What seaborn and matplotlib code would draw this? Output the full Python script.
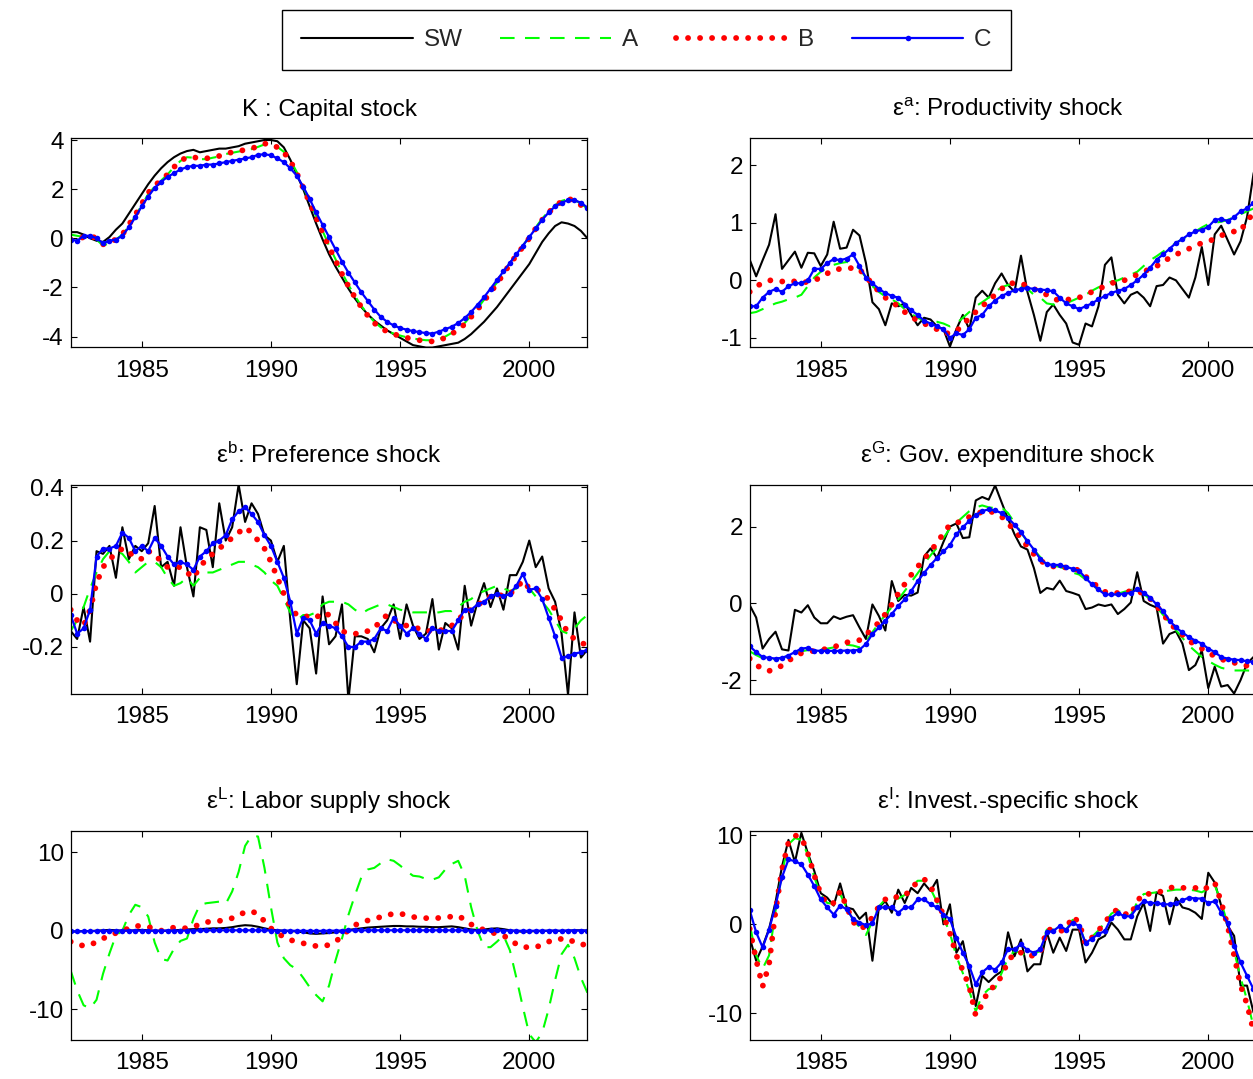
import numpy as np
import matplotlib
matplotlib.use("Agg")
import matplotlib.pyplot as plt
import seaborn as sns

# ---------------- data (quarterly, 1982.25 .. 2002.25) ----------------
quarters = np.arange(1982.25, 2002.26, 0.25)

series_labels = ["SW", "A", "B", "C"]

K_SW = [0.25, 0.25, 0.15, 0.0, -0.1, -0.15, 0.05, 0.35, 0.6, 1.0,
        1.4, 1.8, 2.2, 2.55, 2.85, 3.1, 3.3, 3.45, 3.55, 3.6,
        3.5, 3.55, 3.6, 3.65, 3.65, 3.7, 3.75, 3.85, 3.9, 3.95,
        4.0, 4.0, 3.95, 3.7, 3.2, 2.6, 2.0, 1.3, 0.6, -0.05,
        -0.65, -1.15, -1.6, -2.05, -2.45, -2.8, -3.1, -3.35, -3.55, -3.75,
        -3.9, -4.05, -4.2, -4.35, -4.4, -4.45, -4.45, -4.4, -4.35, -4.3,
        -4.25, -4.1, -3.9, -3.65, -3.4, -3.1, -2.8, -2.45, -2.1, -1.75,
        -1.4, -1.05, -0.6, -0.15, 0.2, 0.5, 0.65, 0.6, 0.5, 0.3,
        0.0]
K_A = [0.15, 0.1, 0.05, 0.05, -0.05, -0.3, -0.2, -0.05, 0.15, 0.5,
       0.9, 1.35, 1.8, 2.1, 2.35, 2.6, 2.9, 3.15, 3.3, 3.28,
       3.22, 3.22, 3.28, 3.33, 3.43, 3.48, 3.53, 3.58, 3.63, 3.72,
       3.82, 3.85, 3.72, 3.52, 3.18, 2.7, 2.1, 1.5, 0.9, 0.3,
       -0.3, -0.85, -1.4, -1.9, -2.35, -2.75, -3.1, -3.4, -3.62, -3.78,
       -3.88, -3.96, -4.03, -4.08, -4.12, -4.15, -4.15, -4.1, -4.0, -3.85,
       -3.65, -3.45, -3.15, -2.85, -2.5, -2.15, -1.8, -1.4, -1.0, -0.65,
       -0.3, 0.05, 0.45, 0.8, 1.1, 1.35, 1.52, 1.6, 1.55, 1.42,
       1.2]
K_B = [-0.05, -0.05, 0.05, 0.1, 0.0, -0.25, -0.15, -0.05, 0.15, 0.55,
       0.95, 1.4, 1.85, 2.15, 2.35, 2.6, 2.9, 3.15, 3.3, 3.3,
       3.25, 3.25, 3.3, 3.35, 3.45, 3.5, 3.55, 3.6, 3.65, 3.75,
       3.85, 3.85, 3.7, 3.5, 3.15, 2.65, 2.05, 1.45, 0.85, 0.25,
       -0.35, -0.9, -1.45, -1.95, -2.4, -2.8, -3.15, -3.45, -3.65, -3.8,
       -3.9, -3.98, -4.05, -4.1, -4.15, -4.18, -4.2, -4.15, -4.05, -3.9,
       -3.7, -3.5, -3.2, -2.9, -2.55, -2.2, -1.85, -1.45, -1.05, -0.7,
       -0.35, 0.0, 0.4, 0.75, 1.05, 1.3, 1.5, 1.6, 1.55, 1.35,
       1.0]
K_C = [-0.05, -0.1, 0.1, 0.1, 0.0, -0.2, -0.1, -0.05, 0.1, 0.45,
       0.85, 1.3, 1.7, 2.05, 2.3, 2.5, 2.65, 2.8, 2.9, 2.95,
       2.95, 3.0, 3.0, 3.05, 3.1, 3.15, 3.2, 3.25, 3.3, 3.4,
       3.42, 3.38, 3.25, 3.1, 2.85, 2.55, 2.1, 1.6, 1.05, 0.55,
       0.05, -0.45, -0.95, -1.4, -1.8, -2.2, -2.55, -2.9, -3.2, -3.4,
       -3.55, -3.65, -3.72, -3.78, -3.82, -3.86, -3.88, -3.8, -3.7, -3.6,
       -3.45, -3.25, -3.0, -2.7, -2.4, -2.05, -1.7, -1.35, -1.0, -0.65,
       -0.3, 0.05, 0.4, 0.75, 1.05, 1.3, 1.45, 1.55, 1.55, 1.45,
       1.25]

EA_SW = [0.36, 0.07, 0.35, 0.62, 1.15, 0.2, 0.35, 0.5, 0.22, 0.48,
         0.47, 0.25, 0.45, 1.02, 0.55, 0.57, 0.88, 0.78, 0.3, -0.38,
         -0.5, -0.78, -0.4, -0.45, -0.4, -0.6, -0.78, -0.65, -0.68, -0.8,
         -0.85, -1.15, -0.85, -0.6, -0.85, -0.3, -0.18, -0.3, -0.05, 0.12,
         -0.08, -0.2, 0.43, -0.2, -0.6, -1.05, -0.55, -0.42, -0.6, -0.75,
         -1.08, -1.12, -0.75, -0.8, -0.45, 0.27, 0.4, -0.25, -0.4, -0.25,
         -0.2, -0.3, -0.45, -0.1, -0.08, 0.05, 0.0, -0.15, -0.3, 0.05,
         0.58, -0.08, 0.8, 0.95, 0.7, 0.45, 0.68, 1.1, 1.85, 2.3,
         2.6]
EA_A = [-0.57, -0.55, -0.5, -0.45, -0.4, -0.37, -0.33, -0.3, -0.25, -0.1,
        0.05, 0.15, 0.22, 0.27, 0.3, 0.32, 0.3, 0.2, 0.05, -0.1,
        -0.2, -0.28, -0.33, -0.4, -0.5, -0.58, -0.65, -0.7, -0.72, -0.72,
        -0.75, -0.8, -0.75, -0.65, -0.55, -0.45, -0.38, -0.3, -0.2, -0.12,
        -0.08, -0.05, -0.1, -0.15, -0.25, -0.3, -0.4, -0.42, -0.45, -0.4,
        -0.35, -0.3, -0.25, -0.18, -0.12, -0.08, -0.02, 0.0, 0.05, 0.1,
        0.15, 0.25, 0.35, 0.42, 0.5, 0.58, 0.65, 0.72, 0.78, 0.85,
        0.92, 0.98, 1.0, 1.02, 1.05, 1.1, 1.15, 1.2, 1.25, 1.3,
        1.35]
EA_B = [-0.2, -0.1, -0.05, 0.0, 0.0, -0.02, 0.0, -0.02, -0.05, -0.02,
        0.0, 0.05, 0.12, 0.18, 0.2, 0.2, 0.22, 0.2, 0.05, -0.05,
        -0.2, -0.3, -0.38, -0.45, -0.55, -0.63, -0.7, -0.75, -0.8, -0.85,
        -0.92, -0.92, -0.88, -0.78, -0.65, -0.55, -0.45, -0.35, -0.25, -0.15,
        -0.05, -0.05, -0.05, -0.1, -0.15, -0.2, -0.25, -0.32, -0.35, -0.35,
        -0.3, -0.3, -0.25, -0.2, -0.15, -0.1, -0.05, -0.02, 0.0, 0.05,
        0.1, 0.15, 0.2, 0.25, 0.3, 0.4, 0.45, 0.5, 0.55, 0.6,
        0.65, 0.68, 0.72, 0.78, 0.82, 0.85, 0.85, 1.05, 1.15, 1.2,
        1.25]
EA_C = [-0.45, -0.45, -0.3, -0.2, -0.15, -0.2, -0.1, -0.05, -0.05, 0.0,
        0.2, 0.2, 0.3, 0.37, 0.35, 0.38, 0.45, 0.25, 0.05, -0.05,
        -0.15, -0.22, -0.27, -0.3, -0.42, -0.52, -0.6, -0.7, -0.75, -0.8,
        -0.85, -1.0, -0.92, -0.95, -0.85, -0.65, -0.6, -0.45, -0.35, -0.27,
        -0.22, -0.17, -0.15, -0.13, -0.15, -0.16, -0.17, -0.19, -0.3, -0.4,
        -0.45, -0.5, -0.45, -0.4, -0.33, -0.27, -0.22, -0.18, -0.15, -0.08,
        0.0, 0.1, 0.22, 0.36, 0.45, 0.55, 0.65, 0.72, 0.8, 0.85,
        0.88, 0.93, 1.05, 1.07, 1.03, 1.1, 1.2, 1.25, 1.35, 1.4,
        1.45]

EB_SW = [-0.14, -0.17, -0.05, -0.18, 0.16, 0.15, 0.18, 0.06, 0.25, 0.13,
         0.18, 0.16, 0.19, 0.33, 0.1, 0.12, 0.03, 0.25, 0.1, -0.01,
         0.25, 0.24, 0.1, 0.34, 0.2, 0.25, 0.41, 0.27, 0.34, 0.3,
         0.22, 0.2, 0.12, 0.18, -0.1, -0.34, -0.1, -0.13, -0.3, -0.01,
         -0.19, -0.16, -0.04, -0.4, -0.16, -0.16, -0.17, -0.22, -0.13, -0.1,
         -0.04, -0.17, -0.04, -0.12, -0.17, -0.15, -0.02, -0.21, -0.11, -0.13,
         -0.21, 0.03, -0.12, -0.03, 0.04, -0.05, 0.02, -0.06, 0.07, 0.07,
         0.12, 0.2, 0.1, 0.14, 0.02, -0.03, -0.15, -0.38, -0.07, -0.24,
         -0.21]
EB_A = [-0.14, -0.1, -0.05, 0.02, 0.08, 0.13, 0.16, 0.16, 0.15, 0.12,
        0.08, 0.1, 0.12, 0.12, 0.1, 0.06, 0.03, 0.04, 0.06, 0.03,
        0.06, 0.08, 0.08, 0.09, 0.1, 0.11, 0.12, 0.12, 0.11, 0.1,
        0.08, 0.05, 0.03, -0.02, -0.07, -0.1, -0.08, -0.08, -0.07, -0.04,
        -0.03, -0.03, -0.03, -0.04, -0.06, -0.075, -0.06, -0.05, -0.04, -0.04,
        -0.05, -0.06, -0.065, -0.07, -0.07, -0.07, -0.07, -0.07, -0.065, -0.065,
        -0.05, -0.03, -0.02, 0.0, 0.01, 0.02, 0.03, 0.02, 0.01, 0.02,
        0.04, 0.02, -0.01, -0.03, -0.06, -0.1, -0.14, -0.15, -0.13, -0.1,
        -0.08]
EB_B = [-0.06, -0.1, -0.12, -0.06, 0.04, 0.1, 0.13, 0.15, 0.17, 0.15,
        0.15, 0.13, 0.16, 0.15, 0.12, 0.1, 0.1, 0.1, 0.08, 0.06,
        0.1, 0.13, 0.15, 0.17, 0.19, 0.21, 0.23, 0.25, 0.23, 0.2,
        0.17, 0.12, 0.06, 0.0, -0.05, -0.08, -0.08, -0.09, -0.09, -0.07,
        -0.08, -0.11, -0.14, -0.15, -0.15, -0.15, -0.14, -0.13, -0.1, -0.08,
        -0.1, -0.11, -0.12, -0.13, -0.13, -0.14, -0.14, -0.14, -0.13, -0.12,
        -0.1, -0.07, -0.06, -0.04, -0.03, -0.01, 0.0, -0.01, 0.0, 0.02,
        0.05, 0.02, 0.02, 0.0, -0.02, -0.06, -0.1, -0.15, -0.17, -0.18,
        -0.2]
EB_C = [-0.08, -0.15, -0.13, -0.06, 0.14, 0.17, 0.17, 0.18, 0.23, 0.21,
        0.16, 0.18, 0.16, 0.21, 0.18, 0.14, 0.11, 0.12, 0.11, 0.09,
        0.14, 0.16, 0.19, 0.2, 0.22, 0.28, 0.31, 0.325, 0.3, 0.27,
        0.22, 0.18, 0.12, 0.06, -0.03, -0.15, -0.09, -0.1, -0.15, -0.11,
        -0.12, -0.13, -0.16, -0.2, -0.2, -0.18, -0.18, -0.17, -0.13, -0.14,
        -0.09, -0.12, -0.15, -0.13, -0.15, -0.17, -0.13, -0.14, -0.14, -0.14,
        -0.1, -0.06, -0.06, -0.04, -0.03, -0.01, 0.0, -0.01, 0.0, 0.03,
        0.075, 0.015, 0.02, -0.02, -0.09, -0.16, -0.24, -0.235, -0.225, -0.22,
        -0.21]

EG_SW = [-0.05, -0.37, -1.18, -0.93, -0.74, -1.2, -1.23, -0.17, -0.24, -0.05,
         -0.37, -0.52, -0.52, -0.34, -0.41, -0.35, -0.31, -0.63, -0.93, -0.03,
         -0.33, -0.71, 0.58, 0.06, 0.22, 0.2, 0.28, 1.22, 1.43, 1.18,
         1.6, 2.0, 2.08, 1.7, 1.72, 2.68, 2.77, 2.7, 3.07, 2.63,
         2.2, 1.8, 1.48, 1.4, 0.92, 0.27, 0.4, 0.36, 0.59, 0.32,
         0.27, 0.21, -0.15, -0.11, -0.03, -0.07, -0.03, -0.28, -0.15, 0.02,
         0.81, 0.06, -0.04, -0.11, -1.05, -0.8, -0.73, -1.05, -1.74, -1.61,
         -1.23, -2.21, -1.65, -2.17, -2.13, -2.35, -2.0, -1.57, -1.4, -1.3,
         -1.2]
EG_A = [-1.25, -1.35, -1.43, -1.46, -1.45, -1.42, -1.37, -1.3, -1.25, -1.22,
        -1.22, -1.2, -1.18, -1.15, -1.1, -1.08, -1.1, -1.15, -1.0, -0.75,
        -0.52, -0.3, -0.1, 0.1, 0.32, 0.55, 0.78, 1.02, 1.25, 1.45,
        1.7, 1.95, 2.1, 2.25, 2.4, 2.5, 2.55, 2.5, 2.48, 2.5,
        2.35, 2.1, 1.85, 1.6, 1.4, 1.2, 1.05, 0.98, 0.95, 0.88,
        0.8, 0.75, 0.62, 0.48, 0.35, 0.27, 0.25, 0.25, 0.3, 0.35,
        0.38, 0.25, 0.1, -0.1, -0.3, -0.5, -0.7, -0.9, -1.1, -1.25,
        -1.4, -1.5, -1.6, -1.68, -1.72, -1.75, -1.75, -1.75, -1.76, -1.77,
        -1.78]
EG_B = [-1.44, -1.6, -1.72, -1.76, -1.72, -1.62, -1.5, -1.38, -1.3, -1.26,
        -1.24, -1.22, -1.18, -1.14, -1.08, -1.02, -0.99, -0.96, -0.82, -0.66,
        -0.5, -0.28, -0.03, 0.25, 0.5, 0.74, 0.95, 1.16, 1.35, 1.58,
        1.82, 2.05, 2.1, 2.14, 2.25, 2.33, 2.38, 2.4, 2.36, 2.26,
        2.08, 1.9, 1.7, 1.48, 1.28, 1.12, 1.0, 0.96, 0.96, 0.93,
        0.9, 0.86, 0.7, 0.55, 0.42, 0.3, 0.26, 0.27, 0.28, 0.32,
        0.32, 0.25, 0.12, -0.07, -0.28, -0.5, -0.68, -0.82, -0.98, -1.08,
        -1.18, -1.28, -1.38, -1.45, -1.52, -1.55, -1.58, -1.63, -1.66, -1.68,
        -1.7]
EG_C = [-1.12, -1.27, -1.4, -1.42, -1.44, -1.42, -1.36, -1.27, -1.18, -1.16,
        -1.23, -1.24, -1.24, -1.24, -1.24, -1.23, -1.23, -1.21, -1.06, -0.8,
        -0.63, -0.45, -0.28, -0.07, 0.1, 0.32, 0.58, 0.79, 1.0, 1.18,
        1.35, 1.52, 1.8, 1.98, 2.15, 2.3, 2.4, 2.45, 2.42, 2.35,
        2.22, 2.05, 1.85, 1.62, 1.4, 1.15, 1.02, 1.0, 1.0, 0.95,
        0.9, 0.85, 0.66, 0.49, 0.36, 0.23, 0.23, 0.23, 0.25, 0.27,
        0.36, 0.28, 0.15, -0.03, -0.2, -0.45, -0.63, -0.76, -0.88, -0.97,
        -1.05, -1.18, -1.27, -1.4, -1.44, -1.47, -1.48, -1.51, -1.53, -1.55,
        -1.57]

EL_SW = [-0.1, -0.1, -0.05, -0.05, 0.0, 0.05, 0.1, 0.05, 0.0, 0.0,
         0.05, 0.1, 0.05, 0.0, -0.05, 0.0, 0.05, 0.1, 0.15, 0.2,
         0.2, 0.25, 0.3, 0.3, 0.35, 0.45, 0.6, 0.7, 0.65, 0.5,
         0.3, 0.15, 0.05, 0.0, -0.05, -0.1, -0.2, -0.35, -0.4, -0.35,
         -0.3, -0.2, -0.05, 0.1, 0.2, 0.3, 0.4, 0.45, 0.5, 0.55,
         0.6, 0.6, 0.55, 0.55, 0.5, 0.5, 0.45, 0.45, 0.5, 0.55,
         0.45, 0.3, 0.15, 0.1, 0.15, 0.25, 0.3, 0.2, 0.05, -0.05,
         -0.15, -0.1, -0.05, -0.05, 0.0, 0.0, -0.05, 0.0, 0.05, 0.05,
         0.0]
EL_A = [-5.1, -7.6, -9.5, -9.9, -8.8, -5.5, -2.9, -0.6, 0.0, 2.0,
        3.3, 3.0, 1.8, -1.5, -3.6, -3.8, -2.3, -1.3, -1.0, 1.5,
        3.3, 3.5, 3.6, 3.7, 3.4, 5.0, 7.5, 10.8, 12.1, 12.0,
        8.0, 3.0, -1.5, -3.5, -4.4, -4.9, -6.0, -7.2, -8.2, -9.0,
        -7.0, -3.8, -1.0, 2.0, 4.5, 6.8, 7.8, 8.0, 8.6, 9.1,
        8.9, 8.3, 7.6, 7.0, 6.9, 6.6, 6.5, 6.8, 7.8, 8.5,
        8.9, 7.0, 3.0, 0.0, -2.1, -2.1, -1.4, -0.6, -2.5, -6.0,
        -9.7, -13.2, -14.2, -13.0, -10.0, -6.3, -3.0, -1.8, -3.5, -6.0,
        -7.9]
EL_B = [-1.4, -1.8, -1.9, -1.85, -1.4, -1.0, -0.6, -0.3, 0.0, 0.3,
        0.6, 0.6, 0.5, 0.2, 0.0, 0.25, 0.4, 0.35, 0.3, 0.5,
        0.8, 1.1, 1.15, 1.25, 1.35, 1.6, 2.0, 2.35, 2.5, 2.1,
        1.2, 0.3, -0.3, -0.8, -1.2, -1.35, -1.6, -1.85, -1.95, -2.0,
        -1.8, -1.4, -0.7, 0.1, 0.7, 1.1, 1.3, 1.5, 1.75, 2.0,
        2.15, 2.2, 1.95, 1.75, 1.65, 1.6, 1.6, 1.62, 1.7, 1.8,
        1.9, 1.4, 0.8, 0.4, 0.1, -0.2, -0.4, -0.6, -1.2, -1.7,
        -2.1, -2.1, -2.1, -1.8, -1.4, -1.1, -1.05, -1.0, -1.5, -1.8,
        -1.7]
EL_C = [-0.1, -0.1, -0.08, -0.05, -0.05, -0.03, 0.0, 0.0, 0.0, 0.02,
        0.02, 0.0, 0.0, 0.0, 0.02, 0.02, 0.0, 0.0, 0.02, 0.02,
        0.03, 0.03, 0.05, 0.05, 0.05, 0.05, 0.05, 0.05, 0.05, 0.05,
        0.03, 0.02, 0.0, 0.0, 0.0, -0.02, -0.02, -0.03, -0.03, -0.02,
        0.0, 0.0, 0.02, 0.03, 0.05, 0.05, 0.05, 0.05, 0.05, 0.05,
        0.05, 0.05, 0.05, 0.05, 0.05, 0.05, 0.05, 0.05, 0.05, 0.05,
        0.05, 0.03, 0.02, 0.02, 0.02, 0.03, 0.03, 0.02, 0.0, 0.0,
        -0.02, -0.02, 0.0, 0.0, 0.0, 0.0, 0.0, 0.02, 0.02, 0.02,
        0.02]

EI_SW = [-1.5, -4.1, -2.5, -0.5, 2.5, 6.5, 9.5, 7.0, 10.3, 8.0,
         6.0, 3.5, 3.0, 2.1, 4.6, 1.9, 1.7, 0.6, 1.3, -4.1,
         1.9, 2.6, 1.3, 3.9, 2.4, 4.1, 3.5, 4.6, 3.75, 5.0,
         0.0, 2.25, -3.2, -1.9, -5.4, -9.2, -5.8, -6.5, -5.8, -5.3,
         -0.9, -3.6, -1.7, -5.3, -4.5, -4.5, -0.9, -3.2, -1.5, -3.0,
         -0.6, -0.6, -4.3, -3.2, -1.7, -1.3, 0.2, -0.6, -1.7, -1.7,
         0.9, 2.4, -0.75, 3.6, 3.2, 0.0, 3.0, 1.9, 1.7, 1.3,
         0.6, 5.8, 4.7, 2.1, -0.2, -1.3, -6.9, -6.9, -9.9, -11.0,
         -12.0]
EI_A = [0.0, -3.5, -5.0, -3.5, 1.5, 5.8, 9.0, 9.7, 9.5, 7.8,
        5.3, 3.3, 2.4, 2.3, 3.4, 1.9, 0.5, -0.3, -1.2, 0.3,
        2.0, 2.8, 3.0, 2.9, 3.3, 4.1, 4.9, 4.9, 4.0, 2.5,
        0.8, -1.0, -3.6, -5.5, -7.5, -9.8, -8.0, -7.3, -7.2, -5.5,
        -3.8, -3.0, -3.2, -3.7, -3.3, -3.0, -0.6, -0.6, -0.7, -0.6,
        0.5, 0.0, -2.2, -1.4, -0.7, 0.2, 1.2, 1.6, 1.1, 1.0,
        2.5, 3.4, 3.5, 3.6, 3.7, 3.8, 3.9, 3.9, 3.9, 3.8,
        3.6, 4.0, 4.4, 2.5, 0.0, -3.0, -6.0, -8.5, -11.5, -13.0,
        -14.0]
EI_B = [-0.5, -4.0, -7.0, -4.5, 1.5, 6.2, 9.2, 10.0, 9.8, 8.0,
        5.5, 3.4, 2.25, 2.4, 3.7, 2.0, 0.3, -0.5, -0.2, 0.8,
        2.0, 2.8, 3.2, 3.0, 3.2, 4.0, 4.8, 5.1, 4.3, 2.7,
        1.0, -1.0, -3.5, -5.2, -7.0, -10.3, -9.0, -7.3, -7.0, -5.8,
        -4.2, -3.2, -3.2, -3.6, -3.5, -3.2, -0.6, -0.6, -0.8, -0.5,
        0.9, 0.2, -2.25, -1.5, -0.7, 0.2, 1.2, 1.7, 1.2, 1.0,
        2.6, 3.5, 3.4, 3.5, 3.8, 4.1, 4.2, 4.1, 4.1, 4.1,
        3.8, 4.2, 4.7, 2.5, -0.2, -3.5, -6.9, -9.0, -12.0, -14.0,
        -15.0]
EI_C = [1.6, -0.9, -2.6, -0.6, 2.1, 5.3, 7.3, 7.1, 6.75, 5.6,
        4.3, 2.8, 1.9, 1.1, 2.1, 1.7, 0.6, 0.2, -0.1, 0.1,
        1.9, 1.9, 1.9, 1.3, 1.9, 1.9, 2.8, 2.8, 2.25, 1.9,
        1.1, 0.6, -1.5, -3.2, -4.7, -6.75, -5.4, -4.8, -5.1, -4.3,
        -2.8, -2.8, -2.25, -2.9, -3.2, -2.8, -0.9, -0.75, -0.2, -0.6,
        0.2, -0.2, -2.1, -1.6, -1.1, -0.75, 0.75, 1.3, 0.9, 0.9,
        1.9, 2.6, 2.4, 2.4, 2.25, 2.25, 2.4, 2.7, 3.0, 2.9,
        2.9, 2.4, 2.6, 1.3, 0.2, -2.4, -4.3, -5.8, -7.3, -8.5,
        -9.5]

panel_titles = ["K : Capital stock",
                "\u03b5$^{\\mathrm{a}}$: Productivity shock",
                "\u03b5$^{\\mathrm{b}}$: Preference shock",
                "\u03b5$^{\\mathrm{G}}$: Gov. expenditure shock",
                "\u03b5$^{\\mathrm{L}}$: Labor supply shock",
                "\u03b5$^{\\mathrm{I}}$: Invest.-specific shock"]
panel_series = [(K_SW, K_A, K_B, K_C), (EA_SW, EA_A, EA_B, EA_C),
                (EB_SW, EB_A, EB_B, EB_C), (EG_SW, EG_A, EG_B, EG_C),
                (EL_SW, EL_A, EL_B, EL_C), (EI_SW, EI_A, EI_B, EI_C)]
panel_yticks = [[-4, -2, 0, 2, 4], [-1, 0, 1, 2], [-0.2, 0, 0.2, 0.4],
                [-2, 0, 2], [-10, 0, 10], [-10, 0, 10]]
panel_yticklabels = [["-4", "-2", "0", "2", "4"], ["-1", "0", "1", "2"],
                     ["-0.2", "0", "0.2", "0.4"], ["-2", "0", "2"],
                     ["-10", "0", "10"], ["-10", "0", "10"]]
panel_ylims = [(-4.43, 4.07), (-1.16, 2.47), (-0.375, 0.41),
               (-2.35, 3.09), (-13.9, 12.7), (-13.0, 10.5)]
x_ticks = [1985, 1990, 1995, 2000]

# ---------------- styling ----------------
sns.set_style("ticks")
plt.rcParams["font.family"] = ["Liberation Sans", "DejaVu Sans"]
plt.rcParams["mathtext.fontset"] = "custom"
plt.rcParams["mathtext.rm"] = "Liberation Sans"
plt.rcParams["mathtext.it"] = "Liberation Sans:italic"
plt.rcParams["mathtext.bf"] = "Liberation Sans:bold"
plt.rcParams["axes.unicode_minus"] = False

FS = 17.5
line_styles = [
    dict(color="black", linewidth=1.5, linestyle="-"),
    dict(color=(0.0, 1.0, 0.0), linewidth=1.5, linestyle=(0, (7, 5))),
    dict(color="red", linewidth=4.2, linestyle=(0, (0.01, 2.05)),
         dash_capstyle="round"),
    dict(color="blue", linewidth=1.6, linestyle="-", marker="o",
         markersize=4.0, markeredgewidth=0),
]

W, H = 1253, 1079
fig = plt.figure(figsize=(W / 100, H / 100), dpi=100)

col_left = [70.7, 749.7]
row_top = [138.3, 484.7, 831.0]
ax_w, ax_h = 516.7, 208.8

axes = []
for i in range(6):
    r, c = divmod(i, 2)
    left = col_left[c] / W
    bottom = 1 - (row_top[r] + ax_h) / H
    ax = fig.add_axes([left, bottom, ax_w / W, ax_h / H])
    axes.append(ax)
    for lab, vals, st in zip(series_labels, panel_series[i], line_styles):
        sns.lineplot(x=quarters, y=vals, ax=ax, label=lab, legend=False,
                     sort=False, estimator=None, errorbar=None, **st)
    ax.set_xlim(1982.25, 2002.25)
    ax.set_ylim(*panel_ylims[i])
    ax.set_xticks(x_ticks)
    ax.set_xticklabels([str(t) for t in x_ticks])
    ax.set_yticks(panel_yticks[i])
    ax.set_yticklabels(panel_yticklabels[i])
    ax.set_xlabel("")
    ax.set_ylabel("")
    ax.tick_params(direction="in", length=4.5, width=0.8, top=True,
                   right=True, labelsize=FS, colors="black")
    ax.tick_params(axis="x", pad=9)
    ax.tick_params(axis="y", pad=5)
    for sp in ax.spines.values():
        sp.set_visible(True)
        sp.set_linewidth(0.9)
        sp.set_color("black")
    ax.set_title(panel_titles[i], fontsize=FS, pad=16, color="black")

handles, labels = axes[0].get_legend_handles_labels()
leg = fig.legend(handles, labels, loc="center",
                 bbox_to_anchor=(282 / W, 1 - 73 / H, (1011 - 282) / W, 66 / H),
                 mode="expand", ncol=4, frameon=True, fancybox=False,
                 edgecolor="black", framealpha=1, borderaxespad=0,
                 handlelength=4.57, handletextpad=0.45, fontsize=FS,
                 numpoints=1, borderpad=0.8)
leg.get_frame().set_linewidth(1.0)

fig.savefig("out.png", dpi=100)
